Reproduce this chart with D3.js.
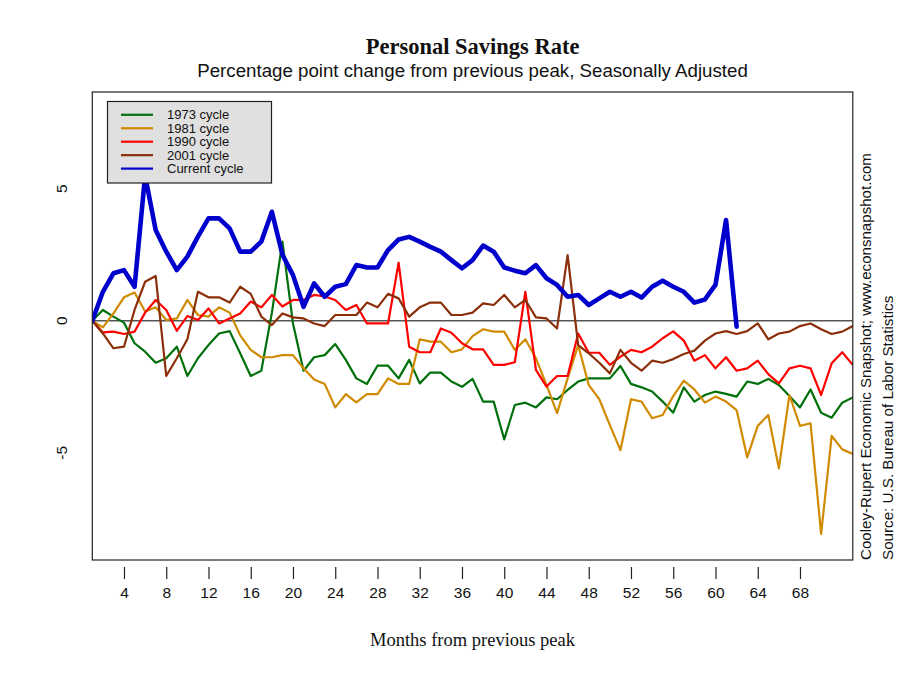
<!DOCTYPE html>
<html><head><meta charset="utf-8">
<script src="https://cdn.jsdelivr.net/npm/d3@7"></script>
<style>body{margin:0;background:#fff}svg{display:block}</style>
</head><body><svg id="c" width="900" height="680"></svg>
<script>
const months = d3.range(1, 74);
const xTicks = [4,8,12,16,20,24,28,32,36,40,44,48,52,56,60,64,68];
const yTicks = [-5, 0, 5];
const seriesNames = ["1973 cycle","1981 cycle","1990 cycle","2001 cycle","Current cycle"];
const seriesColors = ["#00700a","#d08a00","#ff0000","#8b2f0a","#0000cc"];

const cycle1973 = [0,0.41,0.16,-0.07,-0.85,-1.17,-1.59,-1.42,-0.98,-2.09,-1.42,-0.92,-0.48,-0.39,-1.23,-2.09,-1.89,0.3,3.0,-0.1,
 -1.89,-1.38,-1.3,-0.88,-1.48,-2.18,-2.39,-1.7,-1.7,-2.18,-1.48,-2.37,-1.96,-1.96,-2.3,-2.5,-2.2,-3.06,-3.06,-4.49,
 -3.19,-3.1,-3.28,-2.9,-2.97,-2.62,-2.3,-2.18,-2.18,-2.18,-1.71,-2.39,-2.52,-2.68,-3.06,-3.48,-2.52,-3.06,-2.81,-2.68,
 -2.77,-2.87,-2.3,-2.39,-2.2,-2.43,-2.85,-3.28,-2.6,-3.48,-3.67,-3.1,-2.9];
const cycle1981 = [0,-0.25,0.28,0.89,1.07,0.35,0.51,0.03,0.09,0.79,0.22,0.16,0.51,0.31,-0.55,-1.1,-1.38,-1.38,-1.3,-1.3,
 -1.8,-2.22,-2.39,-3.28,-2.78,-3.09,-2.78,-2.78,-2.18,-2.39,-2.39,-0.7,-0.79,-0.79,-1.19,-1.08,-0.58,-0.32,-0.41,-0.41,
 -1.1,-0.7,-1.42,-2.43,-3.5,-2.18,-0.92,-2.43,-2.97,-3.95,-4.9,-2.97,-3.06,-3.69,-3.57,-2.85,-2.27,-2.6,-3.1,-2.87,
 -3.06,-3.38,-5.17,-3.98,-3.57,-5.59,-2.81,-3.98,-3.88,-8.07,-4.36,-4.87,-5.04];
const cycle1990 = [0,-0.44,-0.41,-0.5,-0.41,0.31,0.79,0.41,-0.38,0.18,0.03,0.47,-0.1,0.09,0.28,0.73,0.51,0.98,0.54,0.79,
 0.79,0.98,0.92,0.79,0.41,0.6,-0.1,-0.1,-0.1,2.2,-0.98,-1.19,-1.19,-0.29,-0.45,-0.85,-1.08,-1.08,-1.67,-1.67,
 -1.57,1.1,-1.86,-2.49,-2.09,-2.09,-0.48,-1.21,-1.21,-1.67,-1.36,-1.1,-1.19,-0.98,-0.66,-0.4,-0.75,-1.51,-1.3,-1.8,
 -1.38,-1.89,-1.8,-1.51,-2.02,-2.37,-1.8,-1.7,-1.8,-2.81,-1.61,-1.19,-1.67];
const cycle2001 = [0,-0.48,-1.04,-0.98,0.41,1.48,1.7,-2.09,-1.42,-0.7,1.1,0.89,0.89,0.69,1.29,1.02,0.16,-0.16,0.28,0.13,
 0.09,-0.1,-0.2,0.22,0.22,0.22,0.69,0.51,1.02,0.85,0.16,0.51,0.69,0.69,0.22,0.22,0.31,0.66,0.6,0.98,
 0.51,0.79,0.13,0.09,-0.29,2.49,-0.92,-1.23,-1.59,-1.99,-1.1,-1.59,-1.89,-1.51,-1.59,-1.45,-1.26,-1.13,-0.75,-0.48,
 -0.39,-0.5,-0.39,-0.1,-0.7,-0.48,-0.41,-0.2,-0.1,-0.32,-0.5,-0.41,-0.2];
const cycleCurrent = [0,1.1,1.8,1.92,1.29,5.5,3.44,2.62,1.92,2.43,3.19,3.88,3.88,3.5,2.62,2.62,3.0,4.13,2.5,1.73,
 0.53,1.42,0.91,1.29,1.39,2.11,2.02,2.02,2.68,3.08,3.18,3.0,2.8,2.62,2.3,1.99,2.3,2.85,2.62,2.02,
 1.9,1.8,2.11,1.61,1.36,0.91,0.98,0.6,0.85,1.1,0.91,1.1,0.88,1.29,1.52,1.29,1.1,0.69,0.81,1.36,
 3.82,-0.22];

const seriesValues = [cycle1973, cycle1981, cycle1990, cycle2001, cycleCurrent];

const svg = d3.select("#c");
const L = 92.3, R = 852.8, T = 92, B = 560;
const x = d3.scaleLinear().domain([1, 73]).range([L, R]);
const y = d3.scaleLinear().domain([-9.06, 8.667]).range([B, T]);

svg.append("rect").attr("width",900).attr("height",680).attr("fill","#fff");

svg.append("clipPath").attr("id","pc").append("rect")
  .attr("x",L).attr("y",T).attr("width",R-L).attr("height",B-T);

// zero line
svg.append("line").attr("x1",L).attr("x2",R).attr("y1",y(0)).attr("y2",y(0))
  .attr("stroke","#555").attr("stroke-width",1.6);

const line = d3.line().x((d,i)=>x(months[i])).y(d=>y(d));
const g = svg.append("g").attr("clip-path","url(#pc)");
seriesValues.forEach((vals,k)=>{
  g.append("path").datum(vals).attr("d",line)
   .attr("fill","none").attr("stroke",seriesColors[k])
   .attr("stroke-width", k===4 ? 4.6 : 2.2)
   .attr("stroke-linejoin","round").attr("stroke-linecap","round");
});

// frame
svg.append("rect").attr("x",L).attr("y",T).attr("width",R-L).attr("height",B-T)
  .attr("fill","none").attr("stroke","#222").attr("stroke-width",1.2);

// x axis
const xa = svg.append("g").attr("transform",`translate(0,${B+7})`)
  .call(d3.axisBottom(x).tickValues(xTicks).tickSize(12).tickPadding(8).tickFormat(d3.format("d")));
xa.select(".domain").remove();
xa.selectAll("line").attr("stroke","#222").attr("stroke-width",1.2);
xa.selectAll("text").attr("font-family","Liberation Sans, Arial, sans-serif").attr("font-size",15.5).attr("fill","#111");

// y axis labels (rotated)
svg.append("g").selectAll("text").data(yTicks).join("text")
  .attr("transform",d=>`translate(67,${y(d)}) rotate(-90)`)
  .attr("text-anchor","middle")
  .attr("font-family","Liberation Sans, Arial, sans-serif").attr("font-size",15.5).attr("fill","#111")
  .text(d=>d);

// titles
svg.append("text").attr("x",(L+R)/2).attr("y",54).attr("text-anchor","middle")
  .attr("font-family","Liberation Serif, Times New Roman, serif").attr("font-weight","bold").attr("font-size",22.5)
  .attr("fill","#111").text("Personal Savings Rate");
svg.append("text").attr("x",(L+R)/2).attr("y",77).attr("text-anchor","middle")
  .attr("font-family","Liberation Sans, Arial, sans-serif").attr("font-size",18.7)
  .attr("fill","#111").text("Percentage point change from previous peak, Seasonally Adjusted");
svg.append("text").attr("x",(L+R)/2).attr("y",646).attr("text-anchor","middle")
  .attr("font-family","Liberation Serif, Times New Roman, serif").attr("font-size",18.5)
  .attr("fill","#111").text("Months from previous peak");

// right side notes
svg.append("text").attr("transform","translate(871,560) rotate(-90)")
  .attr("font-family","Liberation Sans, Arial, sans-serif").attr("font-size",15.1).attr("fill","#111")
  .text("Cooley-Rupert Economic Snapshot; www.econsnapshot.com");
svg.append("text").attr("transform","translate(893,560) rotate(-90)")
  .attr("font-family","Liberation Sans, Arial, sans-serif").attr("font-size",15.2).attr("fill","#111")
  .text("Source: U.S.  Bureau of Labor Statistics");

// legend
const lg = svg.append("g");
lg.append("rect").attr("x",107.5).attr("y",101.5).attr("width",164).attr("height",81.5)
  .attr("fill","#e0e0e0").attr("stroke","#222").attr("stroke-width",1.2);
seriesNames.forEach((n,k)=>{
  const yy = 114.8 + k*13.45;
  lg.append("line").attr("x1",121).attr("x2",153).attr("y1",yy).attr("y2",yy)
    .attr("stroke",seriesColors[k]).attr("stroke-width",2.2);
  lg.append("text").attr("x",167).attr("y",yy+4.5)
    .attr("font-family","Liberation Sans, Arial, sans-serif").attr("font-size",13).attr("fill","#111").text(n);
});
</script>
</body></html>
